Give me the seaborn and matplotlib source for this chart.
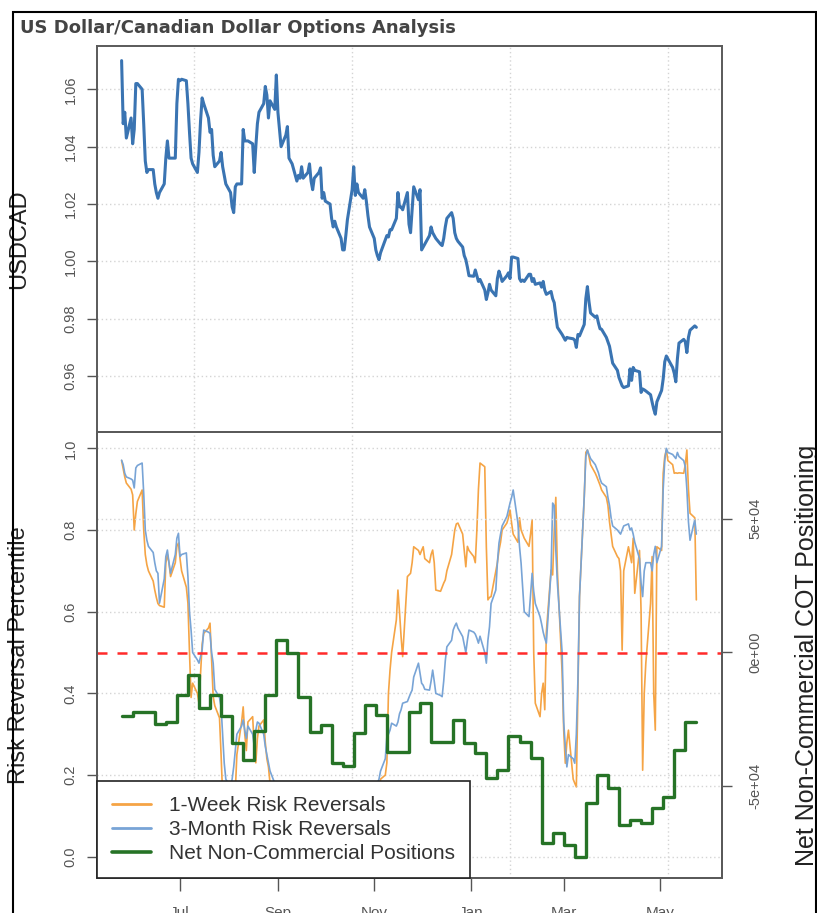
import numpy as np
import pandas as pd
import matplotlib
matplotlib.use("Agg")
import matplotlib.pyplot as plt
import matplotlib.dates as mdates
from matplotlib.lines import Line2D
from matplotlib.patches import Rectangle
import seaborn as sns

# ---------------------------------------------------------------- data
start_date = "2010-05-25"

usdcad = [
    1.070, 1.048, 1.052, 1.043, 1.050, 1.041, 1.046, 1.062, 1.062, 1.060,
    1.048, 1.035, 1.031, 1.032, 1.032, 1.027, 1.024, 1.022, 1.024, 1.027,
    1.036, 1.042, 1.036, 1.036, 1.036, 1.055, 1.0635, 1.063, 1.0635, 1.063,
    1.055, 1.045, 1.036, 1.034, 1.031, 1.038, 1.049, 1.057, 1.055, 1.050,
    1.045, 1.046, 1.037, 1.033, 1.035, 1.038, 1.033, 1.030, 1.027, 1.024,
    1.019, 1.017, 1.026, 1.027, 1.027, 1.046, 1.042, 1.042, 1.042, 1.041,
    1.031, 1.040, 1.048, 1.052, 1.055, 1.061, 1.058, 1.050, 1.056, 1.053,
    1.065, 1.052, 1.046, 1.040, 1.044, 1.047, 1.036, 1.035, 1.034, 1.028,
    1.030, 1.029, 1.033, 1.029, 1.031, 1.034, 1.028, 1.025, 1.029, 1.031,
    1.0326, 1.022, 1.024, 1.021, 1.020, 1.015, 1.012, 1.014, 1.012, 1.008,
    1.004, 1.004, 1.009, 1.0145, 1.025, 1.033, 1.023, 1.027, 1.024, 1.022,
    1.025, 1.021, 1.016, 1.012, 1.008, 1.004, 1.002, 1.0006, 1.003, 1.0075,
    1.009, 1.0085, 1.011, 1.011, 1.015, 1.024, 1.019, 1.019, 1.018, 1.024,
    1.013, 1.010, 1.018, 1.026, 1.0215, 1.025, 1.004, 1.005, 1.006, 1.009,
    1.012, 1.010, 1.009, 1.008, 1.006, 1.0055, 1.008, 1.012, 1.015, 1.017,
    1.015, 1.010, 1.008, 1.007, 1.005, 1.002, 1.0006, 0.998, 0.995, 0.9948,
    0.997, 0.995, 0.993, 0.9937, 0.990, 0.9867, 0.989, 0.992, 0.990, 0.988,
    0.994, 0.9966, 0.995, 0.993, 0.995, 0.996, 0.994, 1.0015, 1.0015, 1.001,
    0.994, 0.993, 0.9935, 0.993, 0.9955, 0.9955, 0.993, 0.994, 0.992, 0.9925,
    0.991, 0.993, 0.990, 0.9885, 0.9895, 0.987, 0.9856, 0.981, 0.977, 0.9745,
    0.9735, 0.9725, 0.9735, 0.9733, 0.973, 0.9725, 0.970, 0.9745, 0.974, 0.978,
    0.987, 0.9912, 0.986, 0.982, 0.9805, 0.981, 0.9785, 0.9765, 0.9763, 0.9735,
    0.972, 0.9704, 0.9675, 0.9645, 0.962, 0.9595, 0.958, 0.9566, 0.956, 0.9566,
    0.9625, 0.9585, 0.963, 0.962, 0.9615, 0.9543, 0.9555, 0.9552, 0.9548, 0.9535,
    0.9509, 0.9485, 0.9467, 0.951, 0.955, 0.959, 0.965, 0.967, 0.966, 0.963,
    0.961, 0.958, 0.966, 0.9715, 0.9728, 0.972, 0.9682, 0.9735, 0.976, 0.9775,
    0.977,
]

rr_1week = [
    0.97, 0.95, 0.93, 0.915, 0.90, 0.886, 0.80, 0.84, 0.87, 0.898,
    0.80, 0.74, 0.715, 0.70, 0.675, 0.653, 0.635, 0.62, 0.615, 0.611,
    0.719, 0.74, 0.72, 0.686, 0.72, 0.76, 0.768, 0.73, 0.70, 0.66,
    0.621, 0.50, 0.39, 0.425, 0.40, 0.376, 0.45, 0.52, 0.547, 0.56,
    0.572, 0.48, 0.392, 0.37, 0.34, 0.25, 0.15, 0.12, 0.14, 0.10,
    0.13, 0.18, 0.16, 0.25, 0.33, 0.367, 0.30, 0.26, 0.33, 0.343,
    0.27, 0.23, 0.29, 0.32, 0.335, 0.28, 0.24, 0.22, 0.18,
    0.15, 0.12, 0.10, 0.08, 0.11, 0.14, 0.10, 0.07, 0.05, 0.08,
    0.12, 0.09, 0.06, 0.04, 0.07, 0.10, 0.13, 0.09, 0.06, 0.05,
    0.08, 0.11, 0.07, 0.04, 0.03, 0.06, 0.09, 0.12, 0.08, 0.05,
    0.07, 0.10, 0.14, 0.11, 0.08, 0.06, 0.09, 0.12, 0.15, 0.11,
    0.07, 0.05, 0.08, 0.12, 0.16, 0.13, 0.10,
    0.12, 0.16, 0.19, 0.20, 0.23, 0.40, 0.457, 0.50, 0.58, 0.653,
    0.60, 0.539, 0.49, 0.686, 0.69, 0.694, 0.72, 0.759, 0.75, 0.74,
    0.75, 0.759, 0.73, 0.72, 0.74, 0.751, 0.72, 0.653, 0.65, 0.66,
    0.67, 0.678, 0.70, 0.74, 0.77, 0.80, 0.815, 0.817, 0.79, 0.75,
    0.71, 0.76, 0.75, 0.735, 0.72, 0.80, 0.90, 0.964, 0.955, 0.759,
    0.629, 0.635, 0.637, 0.70, 0.72, 0.75, 0.77, 0.80, 0.817, 0.83,
    0.849, 0.817, 0.79, 0.77, 0.83, 0.80, 0.79, 0.78, 0.76, 0.79,
    0.825, 0.50, 0.376, 0.343, 0.40, 0.425, 0.36, 0.55, 0.702, 0.69,
    0.80, 0.88, 0.70, 0.45, 0.31, 0.229, 0.28, 0.31, 0.19, 0.18,
    0.171, 0.40, 0.637, 0.88, 0.99, 0.996, 0.98, 0.96, 0.939, 0.93,
    0.92, 0.91, 0.898, 0.88, 0.86, 0.82, 0.79, 0.76, 0.735, 0.73,
    0.70, 0.506, 0.70, 0.759, 0.74, 0.72, 0.78, 0.645, 0.75, 0.60,
    0.212, 0.40, 0.474, 0.62, 0.735, 0.40, 0.31, 0.759, 0.75, 0.939,
    0.98, 0.996, 0.97, 0.96, 0.939, 0.94, 0.939, 0.94, 0.939, 0.96,
    0.996, 0.90, 0.841, 0.83, 0.629,
]

rr_3month = [
    0.971, 0.96, 0.939, 0.93, 0.925, 0.922, 0.903, 0.952, 0.958, 0.964,
    0.890, 0.80, 0.775, 0.76, 0.745, 0.72, 0.70, 0.694, 0.621, 0.68,
    0.735, 0.751, 0.72, 0.694, 0.74, 0.78, 0.792, 0.735, 0.74, 0.744,
    0.686, 0.60, 0.555, 0.50, 0.482, 0.474, 0.49, 0.506, 0.555, 0.55,
    0.547, 0.50, 0.474, 0.41, 0.39, 0.367, 0.30, 0.229, 0.19, 0.17,
    0.19, 0.22, 0.26, 0.30, 0.32, 0.335, 0.31, 0.29, 0.32, 0.30,
    0.27, 0.31, 0.33, 0.327, 0.30, 0.27, 0.25, 0.23, 0.21,
    0.18, 0.16, 0.14, 0.15, 0.13, 0.11, 0.12, 0.10, 0.09, 0.11,
    0.13, 0.12, 0.10, 0.08, 0.09, 0.11, 0.12, 0.10, 0.09, 0.07,
    0.08, 0.10, 0.09, 0.07, 0.06, 0.07, 0.09, 0.11, 0.10, 0.08,
    0.09, 0.11, 0.13, 0.12, 0.10, 0.09, 0.11, 0.13, 0.15, 0.14,
    0.12, 0.11, 0.13, 0.15, 0.17, 0.16, 0.18,
    0.18, 0.19, 0.21, 0.24, 0.294, 0.30, 0.31, 0.327, 0.32, 0.33,
    0.35, 0.36, 0.376, 0.38, 0.39, 0.40, 0.408, 0.44, 0.474, 0.45,
    0.425, 0.42, 0.41, 0.408, 0.43, 0.457, 0.43, 0.40, 0.395, 0.392,
    0.43, 0.48, 0.514, 0.53, 0.555, 0.565, 0.572, 0.56, 0.539, 0.52,
    0.50, 0.53, 0.555, 0.55, 0.545, 0.535, 0.523, 0.54, 0.50, 0.474,
    0.53, 0.563, 0.62, 0.653, 0.72, 0.768, 0.79, 0.81, 0.833, 0.85,
    0.866, 0.88, 0.898, 0.817, 0.76, 0.719, 0.66, 0.60, 0.588, 0.64,
    0.694, 0.65, 0.62, 0.588, 0.57, 0.55, 0.535, 0.523, 0.70, 0.866,
    0.86, 0.75, 0.67, 0.50, 0.33, 0.27, 0.22, 0.25, 0.24, 0.229,
    0.30, 0.433, 0.637, 0.882, 0.98, 0.996, 0.985, 0.975, 0.96, 0.95,
    0.94, 0.925, 0.915, 0.906, 0.88, 0.86, 0.83, 0.81, 0.80, 0.795,
    0.79, 0.80, 0.81, 0.815, 0.80, 0.805, 0.79, 0.77, 0.73, 0.67,
    0.637, 0.70, 0.72, 0.72, 0.70, 0.74, 0.76, 0.72, 0.76, 0.90,
    0.97, 1.0, 0.99, 0.985, 0.98, 0.975, 0.99, 0.98, 0.97, 0.955,
    0.90, 0.82, 0.775, 0.825, 0.79,
]

cot_net = [
    -23800, -22200, -22200, -26800, -26000, -15900, -8400, -20800, -15900, -23800,
    -33900, -40300, -29400, -15900, 4700, -200, -16700, -29800, -27200, -41400,
    -42600, -30200, -19700, -23400, -37300, -37300, -22300, -18900, -33600, -33600,
    -25300, -33900, -37700, -47100, -44100, -31300, -33600, -39600, -71400, -67700,
    -72200, -76700, -56400, -45900, -50800, -64700, -62800, -63900, -58300, -54200,
    -36600, -26100, -26100,
]

month_ticks = ["2010-07-01", "2010-09-01", "2010-11-01", "2011-01-01", "2011-03-01", "2011-05-01"]
month_labels = ["Jul", "Sep", "Nov", "Jan", "Mar", "May"]
usdcad_ticks = [0.96, 0.98, 1.00, 1.02, 1.04, 1.06]
rr_ticks = [0.0, 0.2, 0.4, 0.6, 0.8, 1.0]
cot_ticks = [-50000, 0, 50000]
cot_tick_labels = ["-5e+04", "0e+00", "5e+04"]
# day counts (since 1970-01-01) used for the vertical grid
grid_days = [14800, 14900, 15000, 15100]

daily = pd.DataFrame({
    "date": pd.bdate_range(start_date, periods=len(usdcad)),
    "usdcad": usdcad,
    "rr_1w": rr_1week,
    "rr_3m": rr_3month,
})
weekly = pd.DataFrame({
    "date": pd.date_range(start_date, periods=len(cot_net), freq="7D"),
    "cot": cot_net,
})

# ---------------------------------------------------------------- style
sns.set_theme(style="white")
plt.rcParams["font.family"] = ["Liberation Sans", "DejaVu Sans"]

C_FX = "#3a74b2"
C_1W = "#f5a445"
C_3M = "#78a4d6"
C_COT = "#267326"
C_RED = "#ff2a2a"
C_GRID = "#d4d4d4"
C_FRAME = "#5a5a5a"
C_TICK = "#555555"

W, H = 817, 913
fig = plt.figure(figsize=(W / 100, H / 100), dpi=100)
fig.patch.set_facecolor("white")


def box(l, t, r, b):
    return [l / W, 1 - b / H, (r - l) / W, (b - t) / H]


ax_fx = fig.add_axes(box(97, 46, 722, 432))
ax_rr = fig.add_axes(box(97, 432, 722, 878), sharex=ax_fx)
ax_cot = ax_rr.twinx()

xlim = (mdates.date2num(pd.Timestamp("2010-05-09 10:00")),
        mdates.date2num(pd.Timestamp("2011-06-09 06:00")))
grid_x = [mdates.date2num(pd.Timestamp("1970-01-01") + pd.Timedelta(days=d)) for d in grid_days]
tick_x = [mdates.date2num(pd.Timestamp(d)) for d in month_ticks]

# ---------------------------------------------------------------- top panel
for gx in grid_x:
    ax_fx.axvline(gx, color=C_GRID, lw=1, ls=(0, (1, 2)), zorder=0)
for gy in usdcad_ticks:
    ax_fx.axhline(gy, color=C_GRID, lw=1, ls=(0, (1, 2)), zorder=0)
sns.lineplot(data=daily, x="date", y="usdcad", ax=ax_fx, color=C_FX, lw=2.2,
             legend=False, zorder=3)
ax_fx.set_ylim(0.9405, 1.0751)
ax_fx.set_yticks(usdcad_ticks)
ax_fx.set_yticklabels([f"{v:.2f}" for v in usdcad_ticks])
ax_fx.set_ylabel("USDCAD", fontsize=17, color="#222222")
ax_fx.yaxis.set_label_coords(-0.107, 0.5)
ax_fx.set_xlabel("")
ax_fx.tick_params(axis="x", which="both", bottom=False, labelbottom=False)

# ---------------------------------------------------------------- bottom panel
for gx in grid_x:
    ax_rr.axvline(gx, color=C_GRID, lw=1, ls=(0, (1, 2)), zorder=0)
for gy in rr_ticks:
    ax_rr.axhline(gy, color=C_GRID, lw=1, ls=(0, (1, 2)), zorder=0)
sns.lineplot(data=daily, x="date", y="rr_1w", ax=ax_rr, color=C_1W, lw=1.2,
             legend=False, zorder=2)
sns.lineplot(data=daily, x="date", y="rr_3m", ax=ax_rr, color=C_3M, lw=1.2,
             legend=False, zorder=3)
ax_rr.axhline(0.5, color=C_RED, lw=1.8, ls=(0, (4, 4)), zorder=4)
ax_rr.set_ylim(-0.052, 1.04)
ax_rr.set_yticks(rr_ticks)
ax_rr.set_yticklabels([f"{v:.1f}" for v in rr_ticks])
ax_rr.set_ylabel("Risk Reversal Percentile", fontsize=17, color="#222222")
ax_rr.yaxis.set_label_coords(-0.107, 0.5)
ax_rr.set_xlabel("")

for gy in cot_ticks:
    if gy != 0:
        ax_cot.axhline(gy, color=C_GRID, lw=1, ls=(0, (1, 2)), zorder=0)
sns.lineplot(data=weekly, x="date", y="cot", ax=ax_cot, color=C_COT, lw=2.4,
             drawstyle="steps-post", legend=False, zorder=5)
ax_cot.set_ylim(-84400, 82400)
ax_cot.set_yticks(cot_ticks)
ax_cot.set_yticklabels(cot_tick_labels)
ax_cot.set_ylabel("Net Non-Commercial COT Positioning", fontsize=18, color="#222222",
                  rotation=90)
ax_cot.yaxis.set_label_coords(1.117, 0.5)
ax_cot.set_xlabel("")

ax_rr.set_xlim(*xlim)
ax_rr.set_xticks(tick_x)
ax_rr.set_xticklabels(month_labels)

# ticks and frames
for ax in (ax_fx, ax_rr, ax_cot):
    for s in ax.spines.values():
        s.set_color(C_FRAME)
        s.set_linewidth(1.4)
    ax.grid(False)

ax_fx.tick_params(axis="y", left=True, length=7, width=1, color=C_TICK, pad=7,
                  labelsize=10.5, labelcolor=C_TICK, labelrotation=90)
ax_rr.tick_params(axis="y", left=True, length=7, width=1, color=C_TICK, pad=7,
                  labelsize=10.5, labelcolor=C_TICK, labelrotation=90)
ax_rr.tick_params(axis="x", bottom=True, length=9, width=1, color=C_TICK, pad=11,
                  labelsize=11, labelcolor=C_TICK)
ax_cot.tick_params(axis="y", right=True, length=7, width=1, color=C_TICK, pad=12,
                   labelsize=10.5, labelcolor=C_TICK, labelrotation=90)
for lab in ax_fx.get_yticklabels() + ax_rr.get_yticklabels():
    lab.set_va("center")
for lab in ax_cot.get_yticklabels():
    lab.set_va("center")

# legend over the lines, anchored in the lower-left corner
handles = [
    Line2D([], [], color=C_1W, lw=2),
    Line2D([], [], color=C_3M, lw=2),
    Line2D([], [], color=C_COT, lw=2.6),
]
labels = ["1-Week Risk Reversals", "3-Month Risk Reversals", "Net Non-Commercial Positions"]
leg = ax_cot.legend(handles, labels, loc="lower left", bbox_to_anchor=(0.0, 0.0),
                    borderaxespad=0.0, frameon=True, fancybox=False, framealpha=1,
                    edgecolor="#222222", facecolor="white", fontsize=15,
                    handlelength=1.85, handletextpad=0.9, labelspacing=0.23,
                    borderpad=0.72)
leg.get_frame().set_linewidth(1.2)
for t in leg.get_texts():
    t.set_color("#333333")
leg.set_zorder(10)

# page title and outer border
fig.text(20 / W, 1 - 28 / H, "US Dollar/Canadian Dollar Options Analysis",
         fontsize=13, fontweight="bold", color="#444444", ha="left", va="center",
         family="DejaVu Sans")
fig.add_artist(Rectangle((12.5 / W, -0.1), (815.5 - 12.5) / W, (1 - 12.5 / H) + 0.1,
                         transform=fig.transFigure, fill=False, edgecolor="black",
                         lw=1.5))

fig.savefig("out.png", dpi=100, facecolor="white")
